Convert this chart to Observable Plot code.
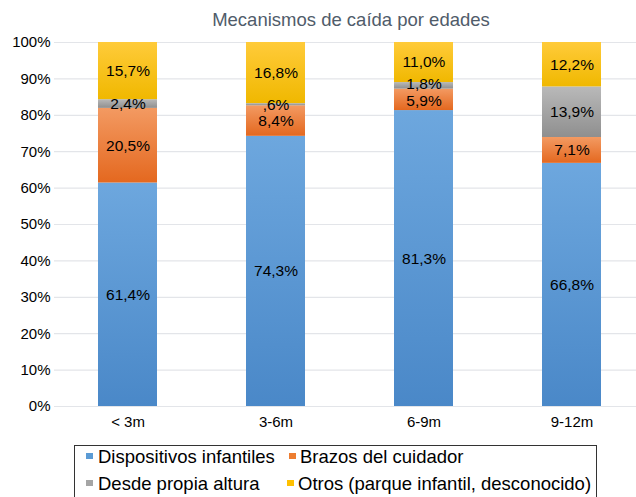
<!DOCTYPE html>
<html>
<head>
<meta charset="utf-8">
<script src="https://cdn.jsdelivr.net/npm/d3@7"></script>
<script src="https://cdn.jsdelivr.net/npm/@observablehq/plot@0.6"></script>
<style>
html, body { margin: 0; padding: 0; background: #fff; overflow: hidden; }
#wrap { position: relative; width: 636px; height: 497px; overflow: hidden; font-family: "Liberation Sans", Arial, sans-serif; }
#title { position: absolute; left: 200px; width: 302px; top: 11px; text-align: center; font-size: 18.5px; line-height: 18.5px; color: #505c6a; white-space: nowrap; }
#chart { position: absolute; left: 0; top: 0; }
#legend { position: absolute; left: 74px; top: 445px; width: 523px; height: 70px; border: 1px solid #333; box-sizing: border-box; }
.mk { position: absolute; width: 7px; height: 6px; }
.lt { position: absolute; font-size: 18.5px; line-height: 18px; color: #000; white-space: nowrap; }
</style>
</head>
<body>
<div id="wrap">
  <div id="title">Mecanismos de caída por edades</div>
  <div id="chart"></div>
  <div id="legend"></div>
</div>
<script>
// ---- data ----
const ages = ["< 3m", "3-6m", "6-9m", "9-12m"];
const seriesNames = ["Dispositivos infantiles", "Brazos del cuidador", "Desde propia altura", "Otros (parque infantil, desconocido)"];
const dispositivos = [61.4, 74.3, 81.3, 66.8];
const brazos = [20.5, 8.4, 5.9, 7.1];
const propiaAltura = [2.4, 0.6, 1.8, 13.9];
const otros = [15.7, 16.8, 11.0, 12.2];
const yTicks = [0, 10, 20, 30, 40, 50, 60, 70, 80, 90, 100];
const seriesColors = ["#5b9bd5", "#ed7d31", "#a5a5a5", "#ffc000"];
const gradTop = ["#6da7de", "#f39a62", "#b9b9b9", "#ffcb3a"];
const gradBottom = ["#4a88c8", "#e4681f", "#8f8f8f", "#f0b800"];

const seriesValues = [dispositivos, brazos, propiaAltura, otros];
const data = [];
seriesNames.forEach((s, i) => {
  ages.forEach((a, j) => data.push({age: a, series: s, value: seriesValues[i][j]}));
});
const fmt = v => v.toFixed(1).replace(".", ",").replace(/^0/, "") + "%";
const gradIds = seriesNames.map((s, i) => "grad" + i);

// labels in the crowded 6-9m column are nudged apart slightly, as in the reference
const isCrowdedUpper = d => d.age === "6-9m" && d.series === seriesNames[2];
const isCrowdedLower = d => d.age === "6-9m" && d.series === seriesNames[1];
const labelMark = (test, dy) => Plot.text(data, Plot.filter(test, Plot.stackY({
  x: "age", y: "value", z: "series", offset: "normalize",
  text: d => fmt(d.value), fill: "#000", fontSize: 15.5, dy
})));

const chart = Plot.plot({
  width: 636,
  height: 440,
  marginTop: 42,
  marginBottom: 34,
  marginLeft: 54,
  marginRight: 0,
  style: {fontFamily: "Liberation Sans, Arial, sans-serif", fontSize: "15px", color: "#000", background: "transparent"},
  x: {domain: ages, range: [53.5, 646.5], paddingInner: 0.6, paddingOuter: 0.3, label: null},
  y: {domain: [0, 1], label: null},
  color: {type: "ordinal", domain: seriesNames, range: gradIds.map(id => `url(#${id})`)},
  marks: [
    Plot.ruleY(yTicks.map(t => t / 100), {stroke: "#e3e5e9", strokeWidth: 1.2}),
    Plot.barY(data, Plot.stackY({x: "age", y: "value", z: "series", fill: "series", offset: "normalize"})),
    labelMark(d => !isCrowdedUpper(d) && !isCrowdedLower(d), 0),
    labelMark(isCrowdedUpper, -1.5),
    labelMark(isCrowdedLower, 1),
    Plot.axisX({tickSize: 0, tickPadding: 10, fontSize: 15}),
    Plot.axisY({ticks: yTicks.map(t => t / 100), tickFormat: d => Math.round(d * 100) + "%", tickSize: 0, tickPadding: 4, fontSize: 15})
  ]
});

const svg = d3.select(chart);
const defs = svg.insert("defs", ":first-child");
gradIds.forEach((id, i) => {
  const g = defs.append("linearGradient").attr("id", id).attr("x1", 0).attr("y1", 0).attr("x2", 0).attr("y2", 1);
  g.append("stop").attr("offset", "0%").attr("stop-color", gradTop[i]);
  g.append("stop").attr("offset", "100%").attr("stop-color", gradBottom[i]);
});
document.getElementById("chart").appendChild(chart);

// ---- legend ----
const legend = document.getElementById("legend");
const pos = [
  {mx: 12, my: 8, tx: 24, ty: 3},
  {mx: 215, my: 8, tx: 226, ty: 3},
  {mx: 12, my: 35, tx: 24, ty: 30},
  {mx: 213, my: 35, tx: 224, ty: 30}
];
seriesNames.forEach((s, i) => {
  const m = document.createElement("div");
  m.className = "mk";
  m.style.left = (pos[i].mx - 1) + "px";
  m.style.top = (pos[i].my - 1) + "px";
  m.style.background = seriesColors[i];
  legend.appendChild(m);
  const t = document.createElement("div");
  t.className = "lt";
  t.style.left = (pos[i].tx - 1) + "px";
  t.style.top = (pos[i].ty - 1) + "px";
  t.textContent = s;
  legend.appendChild(t);
});
</script>
</body>
</html>
